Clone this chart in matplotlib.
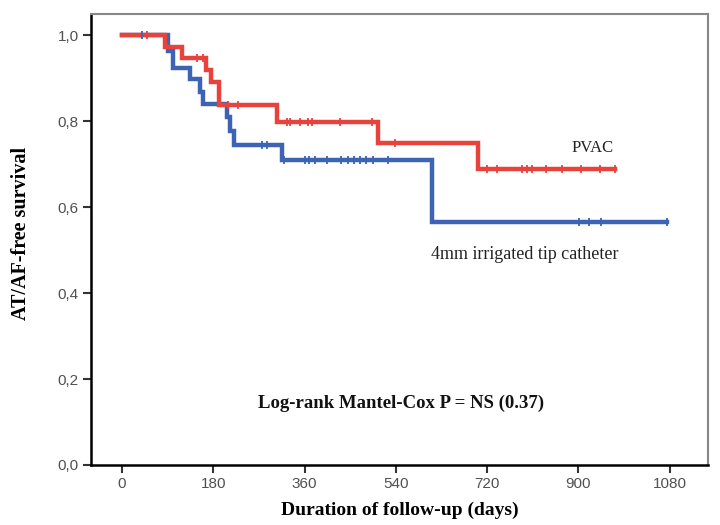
import numpy as np
import matplotlib
matplotlib.use('Agg')
import matplotlib.pyplot as plt

# Kaplan-Meier steps (days, survival)
pvac_times = [0, 85, 118, 165, 175, 192, 305, 505, 702]
pvac_surv = [1.0, 0.973, 0.946, 0.919, 0.892, 0.838, 0.798, 0.749, 0.688]
pvac_end = 972
pvac_censored = [50, 148, 160, 209, 229, 325, 331, 351, 367, 374, 430, 493, 538,
                 719, 739, 788, 798, 808, 837, 867, 906, 942, 972]

tip_times = [0, 90, 100, 134, 153, 160, 207, 213, 220, 315, 611]
tip_surv = [1.0, 0.962, 0.923, 0.897, 0.868, 0.84, 0.81, 0.777, 0.745, 0.709, 0.565]
tip_end = 1075
tip_censored = [40, 276, 286, 320, 360, 368, 380, 405, 432, 445, 458, 470, 482,
                494, 525, 901, 920, 944, 1075]

x_ticks = [0, 180, 360, 540, 720, 900, 1080]
y_ticks = [0.0, 0.2, 0.4, 0.6, 0.8, 1.0]
y_tick_labels = ['0,0', '0,2', '0,4', '0,6', '0,8', '1,0']

RED = '#e8423c'
BLUE = '#3d63b5'
SERIF = 'Liberation Serif'


def surv_at(times, surv, t):
    idx = np.searchsorted(times, t, side='right') - 1
    return np.asarray(surv)[idx]


def draw_group(ax, times, surv, end, censored, color):
    xs = list(times) + [end]
    ys = list(surv) + [surv[-1]]
    ax.step(xs, ys, where='post', color=color, lw=3.2, solid_joinstyle='miter', zorder=3)
    ax.plot(censored, surv_at(times, surv, censored), ls='none', marker='|',
            ms=6, mew=1.3, color=color, zorder=4)


fig = plt.figure(figsize=(7.2, 5.25), dpi=100)
ax = fig.add_axes([0.1264, 0.1143, 0.8566, 0.8597])

draw_group(ax, tip_times, tip_surv, tip_end, tip_censored, BLUE)
draw_group(ax, pvac_times, pvac_surv, pvac_end, pvac_censored, RED)

ax.set_xlim(-61, 1155)
ax.set_ylim(0, 1.05)
ax.set_xticks(x_ticks)
ax.set_yticks(y_ticks)
ax.set_yticklabels(y_tick_labels)
ax.tick_params(direction='out', length=6, width=1.5, color='#333333',
               labelsize=11, labelcolor='#505050', pad=3)
for lab in ax.get_xticklabels() + ax.get_yticklabels():
    lab.set_family('Liberation Sans')

ax.spines['left'].set_linewidth(1.8)
ax.spines['bottom'].set_linewidth(1.8)
ax.spines['top'].set_color('#888888')
ax.spines['right'].set_color('#888888')
ax.spines['top'].set_linewidth(1.5)
ax.spines['right'].set_linewidth(1.5)

ax.set_xlabel('Duration of follow-up (days)', family=SERIF, fontweight='bold', fontsize=14)
ax.set_ylabel('AT/AF-free survival', family=SERIF, fontweight='bold', fontsize=14.5)
ax.xaxis.set_label_coords(0.5, -0.082)
ax.yaxis.set_label_coords(-0.097, 0.514)

ax.text(928, 0.737, 'PVAC', family=SERIF, fontsize=12, ha='center', va='center', color='#222222')
ax.text(794, 0.49, '4mm irrigated tip catheter', family=SERIF, fontsize=13,
        ha='center', va='center', color='#222222')
ax.text(550, 0.144, 'Log-rank Mantel-Cox P = NS (0.37)', family=SERIF, fontsize=13.5,
        fontweight='bold', ha='center', va='center', color='#111111')

fig.savefig('out.png', dpi=100)
plt.close(fig)
